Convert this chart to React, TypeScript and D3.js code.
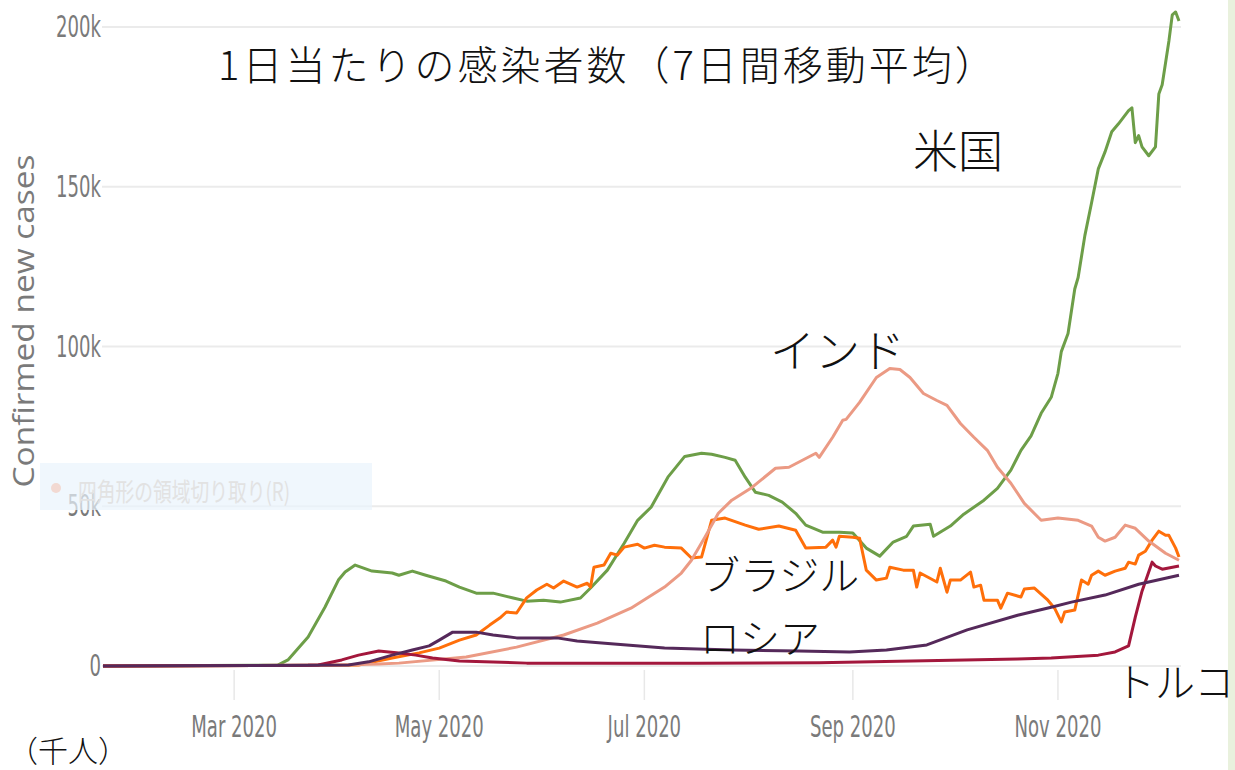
import * as d3 from "d3";

// 7-day average of new cases, thousands. [month-day of 2020, value]
const usData: [string, number][] = [
  ["01-22", 0], ["03-14", 0.3], ["03-17", 1.9], ["03-23", 9.1], ["03-28", 18.4], ["04-01", 26.9],
  ["04-03", 29.4], ["04-06", 31.6], ["04-11", 29.7], ["04-17", 29.1], ["04-19", 28.4], ["04-23", 29.7],
  ["04-27", 28.4], ["05-03", 26.6], ["05-07", 24.7], ["05-12", 22.8], ["05-17", 22.8], ["05-23", 21.3],
  ["05-27", 20.3], ["06-01", 20.6], ["06-06", 20.0], ["06-12", 21.3], ["06-15", 24.4], ["06-20", 30.0],
  ["06-25", 38.4], ["06-29", 45.6], ["07-03", 49.7], ["07-08", 59.1], ["07-13", 65.6], ["07-18", 66.6],
  ["07-21", 66.3], ["07-25", 65.3], ["07-28", 64.4], ["07-31", 59.1], ["08-03", 54.4], ["08-07", 53.4],
  ["08-11", 51.3], ["08-15", 47.8], ["08-18", 44.1], ["08-23", 41.9], ["08-28", 41.9], ["09-01", 41.6],
  ["09-05", 36.9], ["09-09", 34.4], ["09-13", 38.8], ["09-17", 40.6], ["09-19", 43.8], ["09-24", 44.4],
  ["09-25", 40.6], ["09-30", 43.8], ["10-04", 47.5], ["10-10", 51.9], ["10-14", 55.6], ["10-18", 61.3],
  ["10-21", 67.5], ["10-24", 72.0], ["10-27", 79.1], ["10-30", 84.1], ["11-01", 91.6], ["11-02", 98.4],
  ["11-04", 104.1], ["11-06", 118.0], ["11-07", 121.6], ["11-09", 134.7], ["11-11", 145.0], ["11-13", 155.6],
  ["11-15", 160.9], ["11-17", 167.2], ["11-19", 169.7], ["11-22", 173.8], ["11-23", 174.7], ["11-24", 163.8],
  ["11-25", 166.0], ["11-26", 162.5], ["11-28", 159.7], ["11-30", 162.5], ["12-01", 179.0], ["12-02", 181.9],
  ["12-04", 195.6], ["12-05", 203.8], ["12-06", 204.7], ["12-07", 201.9],
];

const indiaData: [string, number][] = [
  ["01-22", 0], ["04-01", 0.3], ["04-13", 0.6], ["04-19", 0.9], ["05-09", 2.8], ["05-24", 5.9],
  ["06-07", 9.7], ["06-17", 13.4], ["06-27", 18.1], ["07-07", 24.7], ["07-12", 29.1], ["07-15", 33.1],
  ["07-19", 40.3], ["07-23", 47.8], ["07-27", 51.9], ["08-02", 55.9], ["08-09", 61.9], ["08-13", 62.2],
  ["08-21", 66.6], ["08-22", 65.3], ["08-26", 71.6], ["08-29", 76.9], ["08-30", 77.2], ["09-03", 82.5],
  ["09-08", 90.3], ["09-12", 93.1], ["09-15", 92.8], ["09-18", 90.3], ["09-22", 85.3], ["09-26", 83.1],
  ["09-29", 81.6], ["10-03", 75.9], ["10-07", 71.6], ["10-11", 67.5], ["10-14", 62.2], ["10-18", 57.2],
  ["10-22", 50.9], ["10-27", 45.6], ["11-01", 46.3], ["11-07", 45.6], ["11-11", 43.8], ["11-13", 40.3],
  ["11-15", 39.1], ["11-18", 40.3], ["11-21", 44.1], ["11-24", 43.1], ["11-28", 39.1], ["12-03", 35.3],
  ["12-07", 33.1],
];

const brazilData: [string, number][] = [
  ["01-22", 0], ["03-29", 0.2], ["04-07", 0.3], ["04-17", 2.5], ["04-25", 4.1], ["05-01", 5.6],
  ["05-07", 8.1], ["05-12", 9.7], ["05-16", 12.8], ["05-19", 15.0], ["05-21", 16.9], ["05-24", 16.6],
  ["05-27", 21.3], ["05-30", 23.8], ["06-02", 25.6], ["06-04", 24.4], ["06-07", 26.6], ["06-11", 24.7],
  ["06-14", 25.9], ["06-15", 24.7], ["06-16", 30.9], ["06-19", 31.6], ["06-21", 35.3], ["06-23", 34.7],
  ["06-25", 37.2], ["06-29", 38.1], ["07-01", 36.9], ["07-04", 37.8], ["07-07", 37.2], ["07-12", 36.9],
  ["07-15", 33.8], ["07-18", 34.1], ["07-21", 45.6], ["07-25", 46.3], ["07-31", 44.1], ["08-04", 42.8],
  ["08-10", 43.8], ["08-15", 42.5], ["08-18", 36.9], ["08-24", 37.2], ["08-26", 39.4], ["08-27", 37.2],
  ["08-28", 40.6], ["09-01", 40.3], ["09-03", 40.0], ["09-05", 30.0], ["09-08", 26.9], ["09-11", 27.5],
  ["09-12", 30.9], ["09-16", 30.0], ["09-19", 30.0], ["09-20", 24.7], ["09-21", 29.1], ["09-26", 26.3],
  ["09-27", 30.6], ["09-29", 23.1], ["09-30", 26.9], ["10-03", 26.9], ["10-06", 29.4], ["10-07", 24.7],
  ["10-09", 25.3], ["10-10", 20.6], ["10-14", 20.6], ["10-15", 18.1], ["10-17", 22.8], ["10-21", 21.6],
  ["10-22", 24.1], ["10-25", 24.4], ["10-29", 20.6], ["10-31", 18.1], ["11-02", 13.8], ["11-03", 16.9],
  ["11-06", 17.5], ["11-08", 26.9], ["11-10", 25.6], ["11-11", 28.4], ["11-13", 29.7], ["11-15", 28.4],
  ["11-18", 29.7], ["11-21", 30.6], ["11-22", 32.5], ["11-24", 31.9], ["11-25", 34.7], ["11-27", 35.9],
  ["11-29", 39.4], ["12-01", 42.2], ["12-03", 40.9], ["12-04", 40.9], ["12-06", 36.9], ["12-07", 34.1],
];

const russiaData: [string, number][] = [
  ["01-22", 0], ["04-04", 0.3], ["04-10", 1.3], ["04-17", 3.4], ["04-23", 5.0], ["04-28", 6.3],
  ["05-01", 8.1], ["05-05", 10.6], ["05-12", 10.6], ["05-17", 9.7], ["05-24", 8.8], ["06-05", 8.8],
  ["06-11", 7.8], ["06-22", 6.9], ["07-07", 5.6], ["07-27", 5.0], ["08-16", 4.7], ["08-31", 4.4],
  ["09-11", 5.0], ["09-23", 6.6], ["10-05", 11.3], ["10-20", 15.9], ["10-30", 18.4], ["11-05", 20.0],
  ["11-15", 22.2], ["11-25", 25.6], ["12-07", 28.4],
];

const turkeyData: [string, number][] = [
  ["01-22", 0], ["03-23", 0.2], ["03-26", 0.3], ["04-02", 1.9], ["04-07", 3.4], ["04-13", 4.7],
  ["04-19", 4.1], ["04-24", 3.4], ["04-29", 2.5], ["05-07", 1.6], ["05-27", 0.9], ["06-11", 0.9],
  ["07-17", 0.9], ["08-22", 1.0], ["10-20", 2.2], ["10-30", 2.5], ["11-13", 3.4], ["11-18", 4.4],
  ["11-22", 6.3], ["11-24", 15.3], ["11-26", 23.4], ["11-29", 32.5], ["11-30", 31.3], ["12-02", 30.3],
  ["12-07", 31.3],
];

const yTicks = [0, 50, 100, 150, 200];
const xTickDates = ["2020-03-01", "2020-05-01", "2020-07-01", "2020-09-01", "2020-11-01"];

const series = [
  { name: "US", data: usData, color: "#6d9e48" },
  { name: "Brazil", data: brazilData, color: "#ff6f0a" },
  { name: "India", data: indiaData, color: "#eb9a84" },
  { name: "Turkey", data: turkeyData, color: "#a3173c" },
  { name: "Russia", data: russiaData, color: "#55295a" },
];

const width = 1235;
const height = 770;

const parse = d3.timeParse("%Y-%m-%d");
const toDate = (md: string) => parse("2020-" + md) as Date;

const tickFont = "'Liberation Sans Narrow', 'DejaVu Sans Condensed', Roboto, sans-serif";
const jpFont = "'Noto Sans CJK JP', sans-serif";
const squeeze = 0.67;

export default function App() {
  const x = d3.scaleTime()
    .domain([toDate("01-22"), toDate("12-07")])
    .range([103, 1179]);
  const y = d3.scaleLinear().domain([0, 200]).range([666, 27]);

  const line = d3.line<[string, number]>()
    .x(d => x(toDate(d[0])))
    .y(d => y(d[1]));

  const fmtMonth = d3.timeFormat("%b %Y");

  return (
    <svg width={width} height={height}
      style={{ position: "absolute", left: 0, top: 0, background: "#fff" }}>
      {/* grid */}
      {yTicks.map(t => (
        <g key={t}>
          <line x1={102} x2={1181} y1={y(t)} y2={y(t)} stroke="#ebebeb" strokeWidth={2} />
          <g transform={`translate(101,${y(t) + 10}) scale(${squeeze},1)`}>
            <text textAnchor="end" fontFamily={tickFont} fontSize={30} fill="#7a7a7a">
              {t === 0 ? "0" : `${t}k`}
            </text>
          </g>
        </g>
      ))}
      {xTickDates.map(s => {
        const d = parse(s) as Date;
        return (
          <g key={s}>
            <line x1={x(d)} x2={x(d)} y1={670} y2={700} stroke="#e8e8e8" strokeWidth={1.5} />
            <g transform={`translate(${x(d)},737) scale(${squeeze},1)`}>
              <text textAnchor="middle" fontFamily={tickFont} fontSize={30} fill="#7a7a7a">
                {fmtMonth(d)}
              </text>
            </g>
          </g>
        );
      })}

      <text transform="translate(34,321) rotate(-90)" textAnchor="middle"
        fontFamily="'Open Sans', sans-serif" fontSize={29} fill="#7a7a7a"
        textLength={333} lengthAdjust="spacingAndGlyphs">
        Confirmed new cases
      </text>

      {/* faint context-menu remnant */}
      <rect x={40} y={463} width={332} height={47} fill="#eaf3fc" opacity={0.7} />
      <circle cx={56} cy={488} r={5} fill="#f2d9d2" />
      <text x={78} y={501} fontFamily={jpFont} fontSize={25} fill="#e2e2e2"
        textLength={212} lengthAdjust="spacingAndGlyphs">
        四角形の領域切り取り(R)
      </text>

      {/* series */}
      {series.map(s => (
        <path key={s.name} d={line(s.data) as string} fill="none" stroke={s.color}
          strokeWidth={3} strokeLinejoin="round" />
      ))}

      {/* annotations */}
      <g fontFamily={jpFont} fontWeight={300} fill="#111">
        <text x={218} y={80} fontSize={40} letterSpacing={3}>1日当たりの感染者数（7日間移動平均）</text>
        <text x={913} y={168} fontSize={45}>米国</text>
        <text x={770} y={368} fontSize={45}>インド</text>
        <text x={700} y={590} fontSize={40}>ブラジル</text>
        <text x={700} y={653} fontSize={40}>ロシア</text>
        <text x={1115} y={697} fontSize={40}>トルコ</text>
        <text x={8} y={762} fontSize={30}>（千人）</text>
      </g>

      <rect x={1228} y={0} width={7} height={height} fill="#e9f1dd" />
    </svg>
  );
}
